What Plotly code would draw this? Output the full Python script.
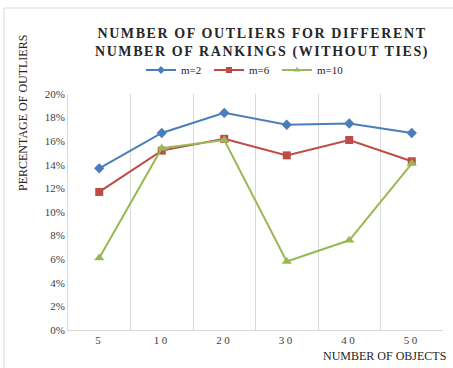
import plotly.graph_objects as go

# Number of objects (categories) and percentage of outliers per ranking count
objects = ["5", "10", "20", "30", "40", "50"]
m2 = [13.7, 16.7, 18.4, 17.4, 17.5, 16.7]
m6 = [11.7, 15.2, 16.2, 14.8, 16.1, 14.3]
m10 = [6.1, 15.4, 16.1, 5.8, 7.6, 14.1]
y_ticks = [0, 2, 4, 6, 8, 10, 12, 14, 16, 18, 20]
y_tick_labels = [f"{v}%" for v in y_ticks]

W, H = 453, 368
L, R, T, B = 68, 10, 94, 38
SERIF = "Liberation Serif"


def px(x):
    return (x - L) / (W - L - R)


def py(y):
    return (H - B - y) / (H - T - B)


series = [
    ("m=2", m2, "#4A7EBB", "diamond", 8),
    ("m=6", m6, "#BE4B48", "square", 8),
    ("m=10", m10, "#98B954", "triangle-up", 9),
]

fig = go.Figure()
for name, vals, color, sym, size in series:
    fig.add_trace(go.Scatter(
        x=objects, y=vals, name=name, mode="lines+markers",
        line=dict(color=color, width=2),
        marker=dict(symbol=sym, size=size, color=color),
        showlegend=False,
    ))
# Legend entries with smaller markers
for name, vals, color, sym, size in series:
    fig.add_trace(go.Scatter(
        x=[None], y=[None], name=name, mode="lines+markers",
        line=dict(color=color, width=2),
        marker=dict(symbol=sym, size=6, color=color),
    ))

fig.update_layout(
    width=W, height=H,
    margin=dict(l=L, r=R, t=T, b=B, autoexpand=False),
    paper_bgcolor="white", plot_bgcolor="white",
    font=dict(family=SERIF, size=11, color="#404040"),
    title=dict(
        text="<b>NUMBER OF OUTLIERS FOR DIFFERENT<br>NUMBER OF RANKINGS (WITHOUT TIES)</b>",
        x=262 / W, xanchor="center", y=1 - 38 / H, yanchor="middle",
        font=dict(family=SERIF, size=14, color="#262626"),
    ),
    legend=dict(
        orientation="h", x=px(141), xanchor="left", y=py(70), yanchor="middle",
        font=dict(family=SERIF, size=11, color="#262626"),
        itemwidth=30, entrywidth=23, entrywidthmode="pixels",
        tracegroupgap=0, bgcolor="rgba(0,0,0,0)",
    ),
    xaxis=dict(
        type="category", range=[-0.5, 5.5],
        showgrid=True, gridcolor="#D9D9D9", gridwidth=1,
        tickson="boundaries", ticks="", showline=True, linecolor="#D9D9D9",
        tickfont=dict(family=SERIF, size=11, color="#404040"),
        zeroline=False,
    ),
    yaxis=dict(
        range=[0, 20], tickvals=y_ticks, ticktext=y_tick_labels,
        showgrid=False, showline=True, linecolor="#D9D9D9", ticks="",
        tickfont=dict(family=SERIF, size=11, color="#404040"),
        zeroline=False,
    ),
)

# Outer chart frame
fig.add_shape(type="line", xref="paper", yref="paper",
              x0=px(4), x1=px(W + 5), y0=py(8), y1=py(8),
              line=dict(color="#D9D9D9", width=1))
fig.add_shape(type="line", xref="paper", yref="paper",
              x0=px(4), x1=px(4), y0=py(8), y1=py(H + 5),
              line=dict(color="#D9D9D9", width=1))

fig.add_annotation(
    text="PERCENTAGE OF OUTLIERS", textangle=-90,
    xref="paper", yref="paper", x=px(23), y=py(113),
    xanchor="center", yanchor="middle", showarrow=False,
    font=dict(family=SERIF, size=12, color="#262626"),
)
fig.add_annotation(
    text="NUMBER OF OBJECTS",
    xref="paper", yref="paper", x=px(448), y=py(356),
    xanchor="right", yanchor="middle", showarrow=False,
    font=dict(family=SERIF, size=12, color="#262626"),
)

# Wider tracking on the title and the category labels
spacing_js = """
document.querySelectorAll('.gtitle').forEach(function(e){e.style.letterSpacing='1.6px';});
document.querySelectorAll('.xtick text').forEach(function(e){e.style.letterSpacing='2.5px';});
"""

fig.write_html("out.html", post_script=spacing_js)
